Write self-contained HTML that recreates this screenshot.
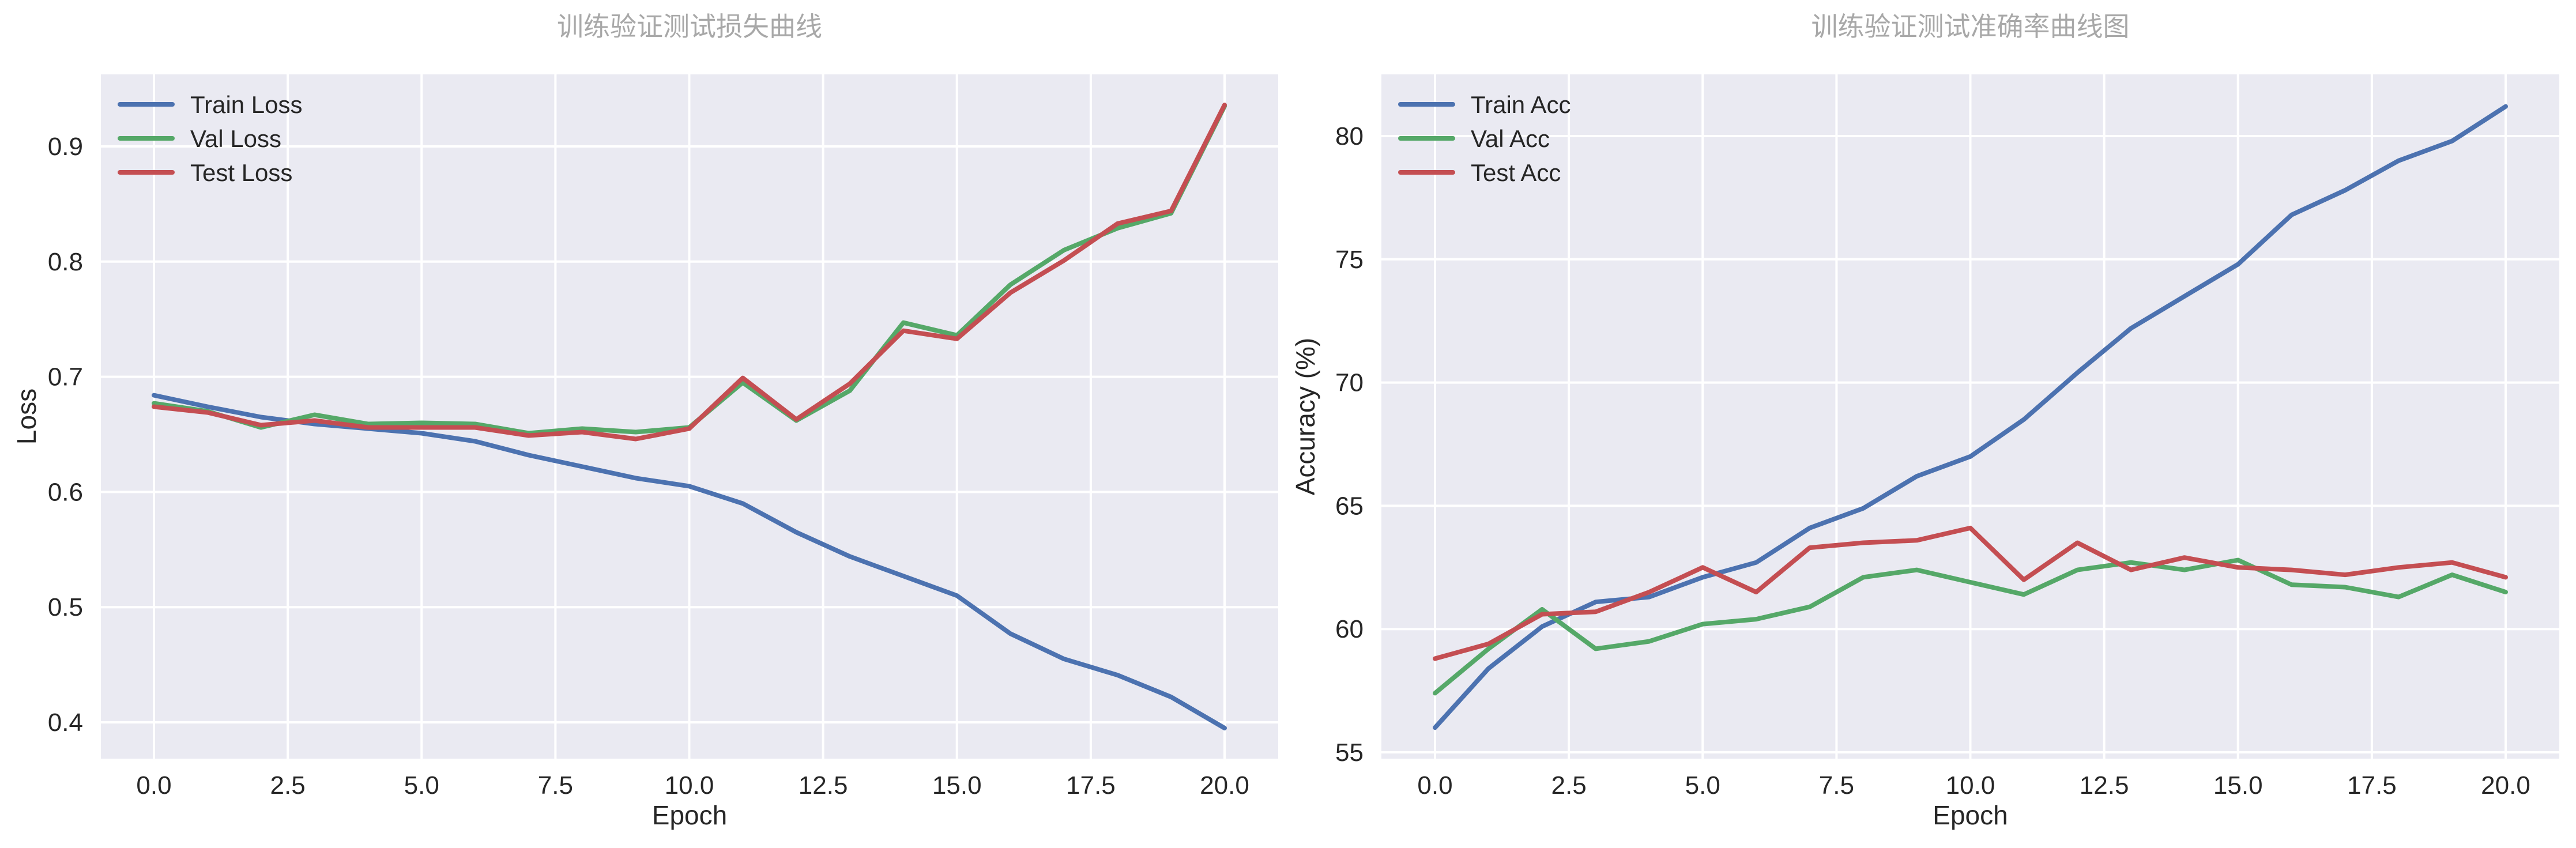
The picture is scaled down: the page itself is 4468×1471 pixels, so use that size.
<!DOCTYPE html>
<html><head><meta charset="utf-8">
<style>
html,body{margin:0;padding:0;background:#fff;}
svg{display:block;font-family:"Liberation Sans","Noto Sans CJK SC",sans-serif;}
</style></head>
<body>
<svg id="fig" width="4468" height="1471" viewBox="0 0 4468 1471" xmlns="http://www.w3.org/2000/svg"></svg>
<script>
const epochs = [0,1,2,3,4,5,6,7,8,9,10,11,12,13,14,15,16,17,18,19,20];
const trainLoss = [0.684,0.674,0.665,0.659,0.655,0.651,0.644,0.632,0.622,0.612,0.605,0.590,0.565,0.544,0.527,0.510,0.477,0.455,0.441,0.422,0.395];
const valLoss = [0.677,0.670,0.656,0.667,0.659,0.660,0.659,0.651,0.655,0.652,0.656,0.695,0.662,0.688,0.747,0.736,0.780,0.810,0.829,0.842,0.935];
const testLoss = [0.674,0.669,0.658,0.662,0.656,0.656,0.656,0.649,0.652,0.646,0.655,0.699,0.663,0.694,0.740,0.733,0.773,0.801,0.833,0.844,0.936];
const trainAcc = [56.0,58.4,60.1,61.1,61.3,62.1,62.7,64.1,64.9,66.2,67.0,68.5,70.4,72.2,73.5,74.8,76.8,77.8,79.0,79.8,81.2];
const valAcc = [57.4,59.2,60.8,59.2,59.5,60.2,60.4,60.9,62.1,62.4,61.9,61.4,62.4,62.7,62.4,62.8,61.8,61.7,61.3,62.2,61.5];
const testAcc = [58.8,59.4,60.6,60.7,61.5,62.5,61.5,63.3,63.5,63.6,64.1,62.0,63.5,62.4,62.9,62.5,62.4,62.2,62.5,62.7,62.1];
const xTicks = [0,2.5,5,7.5,10,12.5,15,17.5,20];
const xTickLabels = ["0.0","2.5","5.0","7.5","10.0","12.5","15.0","17.5","20.0"];
const lossTicks = [0.4,0.5,0.6,0.7,0.8,0.9];
const lossTickLabels = ["0.4","0.5","0.6","0.7","0.8","0.9"];
const accTicks = [55,60,65,70,75,80];
const accTickLabels = ["55","60","65","70","75","80"];
const lossNames = ["Train Loss","Val Loss","Test Loss"];
const accNames = ["Train Acc","Val Acc","Test Acc"];

const NS = "http://www.w3.org/2000/svg";
const svg = document.getElementById('fig');
const colors = ["#4c72b0","#55a868","#c44e52"];
function mk(tag, attrs, parent){
  const e = document.createElementNS(NS, tag);
  for (const k in attrs) e.setAttribute(k, attrs[k]);
  (parent||svg).appendChild(e);
  return e;
}
function panel(cfg){
  const g = mk('g', {});
  
  
  const L=cfg.left, R=cfg.right, T=129, B=1316;
  const xs = v => cfg.x0 + v*(cfg.x20-cfg.x0)/20;
  const ys = v => cfg.ya + (v-cfg.va)*(cfg.yb-cfg.ya)/(cfg.vb-cfg.va);
  const bg = mk('rect',{x:L,y:T,width:R-L,height:B-T,fill:'#eaeaf2'},g);
  
  
  xTicks.forEach((t,i)=>{
    const gl = mk('line',{x1:xs(t),x2:xs(t),y1:T,y2:B,stroke:'#fff','stroke-width':4},g);
    
    
    const tl = mk('text',{x:xs(t),y:1377,'font-size':44,fill:'#262626','text-anchor':'middle'},g);
    
    
    tl.textContent = xTickLabels[i];
  });
  cfg.yTicks.forEach((t,i)=>{
    const gl = mk('line',{x1:L,x2:R,y1:ys(t),y2:ys(t),stroke:'#fff','stroke-width':4},g);
    
    
    const tl = mk('text',{x:L-31,y:ys(t)+15,'font-size':44,fill:'#262626','text-anchor':'end'},g);
    
    
    tl.textContent = cfg.yTickLabels[i];
  });
  cfg.series.forEach((s,si)=>{
    const pts = epochs.map((e,i)=>xs(e).toFixed(1)+','+ys(s[i]).toFixed(1)).join(' ');
    const pl = mk('polyline',{points:pts,fill:'none',stroke:colors[si],'stroke-width':8,'stroke-linecap':'round','stroke-linejoin':'round'},g);
    
    
  });
  const lg = mk('g',{},g);
  
  
  cfg.names.forEach((n,i)=>{
    const y = 181 + i*59;
    const ln = mk('line',{x1:L+33,x2:L+124,y1:y,y2:y,stroke:colors[i],'stroke-width':8,'stroke-linecap':'round'},lg);
    
    
    const tx = mk('text',{x:L+155,y:y+15,'font-size':42,fill:'#262626'},lg);
    
    
    tx.textContent = n;
  });
  const xl = mk('text',{x:(L+R)/2,y:1430,'font-size':46,fill:'#262626','text-anchor':'middle'},g);
  
  
  xl.textContent = 'Epoch';
  const cy = (T+B)/2;
  const yl = mk('text',{x:cfg.ylx,y:cy,'font-size':46,fill:'#262626','text-anchor':'middle',transform:'rotate(-90 '+cfg.ylx+' '+cy+')'},g);
  
  
  yl.textContent = cfg.ylabel;
  const ti = mk('text',{x:(L+R)/2,y:62,'font-size':46,fill:'#a8a8a8','text-anchor':'middle'},g);
  
  
  ti.textContent = cfg.title;
}
panel({name:'loss-chart',left:175,right:2217,x0:267,x20:2124,va:0.9,ya:254,vb:0.4,yb:1253,
  yTicks:lossTicks,yTickLabels:lossTickLabels,series:[trainLoss,valLoss,testLoss],names:lossNames,
  ylabel:'Loss',ylx:62,title:'训练验证测试损失曲线'});
panel({name:'accuracy-chart',left:2396,right:4439,x0:2489,x20:4346,va:80,ya:236,vb:55,yb:1305,
  yTicks:accTicks,yTickLabels:accTickLabels,series:[trainAcc,valAcc,testAcc],names:accNames,
  ylabel:'Accuracy (%)',ylx:2280,title:'训练验证测试准确率曲线图'});
</script>
</body></html>
